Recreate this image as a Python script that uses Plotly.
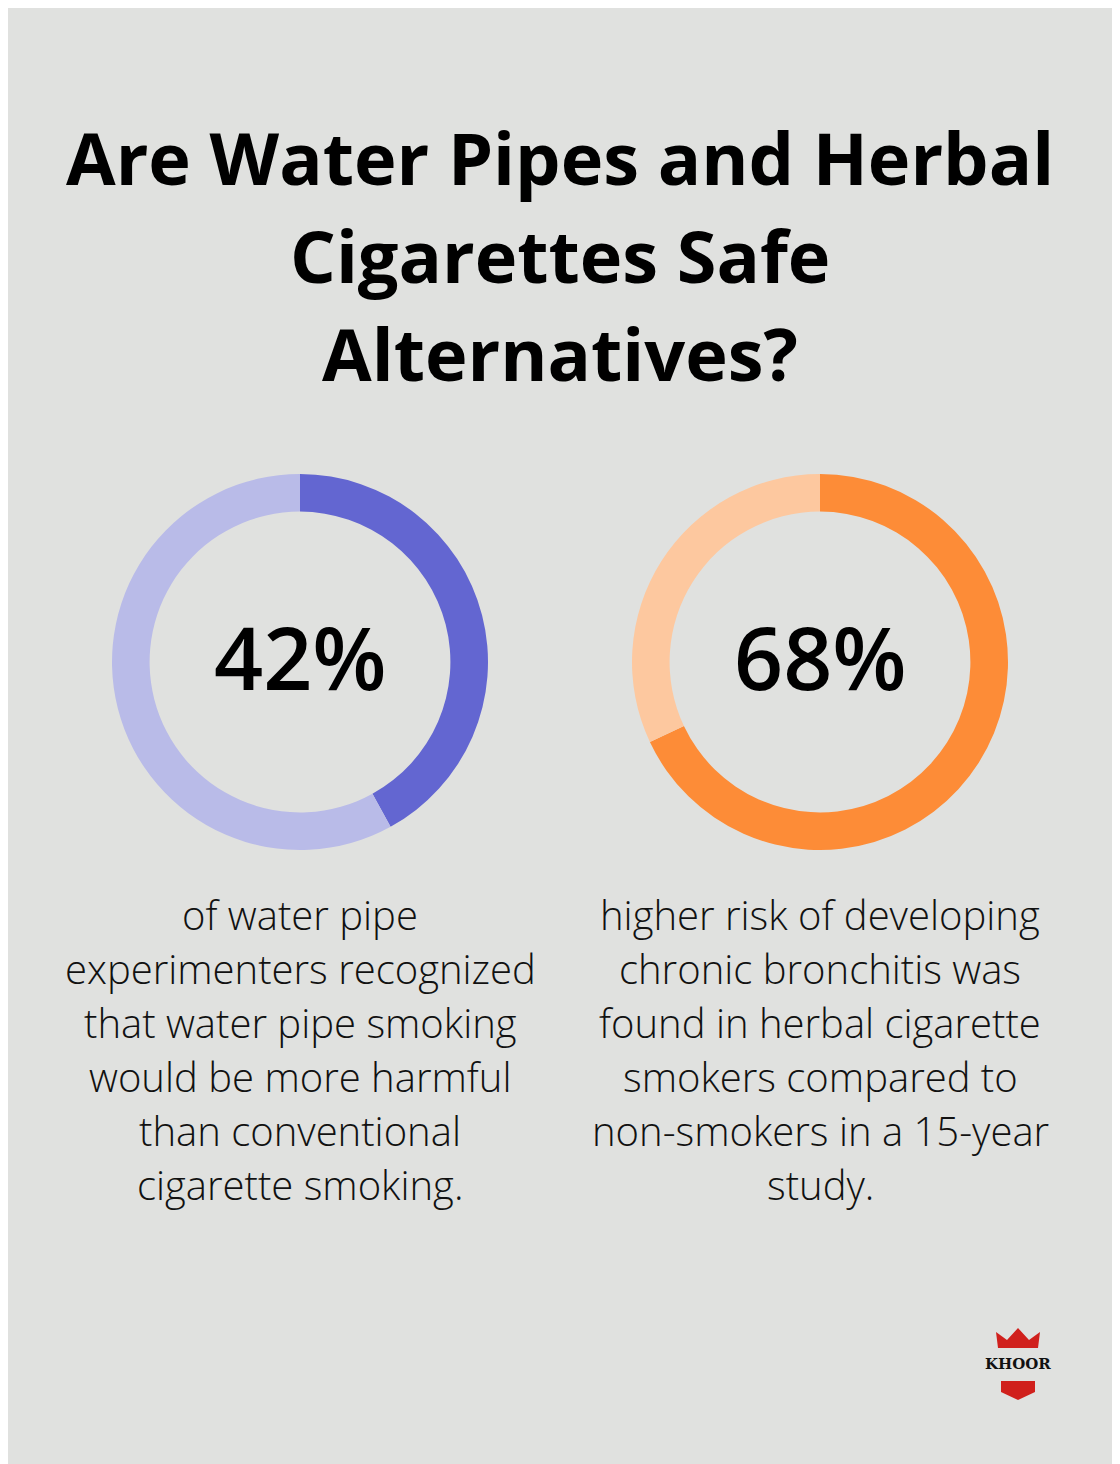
import plotly.graph_objects as go

title_lines = ["Are Water Pipes and Herbal", "Cigarettes Safe", "Alternatives?"]
labels = ["stat", "rest"]
values_left = [42, 58]
values_right = [68, 32]
center_texts = ["42%", "68%"]
captions = [
    ["of water pipe", "experimenters recognized", "that water pipe smoking",
     "would be more harmful", "than conventional", "cigarette smoking."],
    ["higher risk of developing", "chronic bronchitis was", "found in herbal cigarette",
     "smokers compared to", "non-smokers in a 15-year", "study."],
]
colors_left = ["#6366d1", "#b9bbe8"]
colors_right = ["#fd8c37", "#fdc89f"]

OFF = 8
W, H = 1120 - OFF, 1464 - OFF
R = 188

def X(x):
    return (x - OFF) / W

def Y(y):
    return 1 - (y - OFF) / H

fig = go.Figure()
for cx, vals, cols in [(300, values_left, colors_left), (820, values_right, colors_right)]:
    fig.add_trace(go.Pie(
        labels=labels, values=vals, hole=0.8, sort=False, direction="clockwise", rotation=0,
        marker=dict(colors=cols, line=dict(width=0)), textinfo="none", hoverinfo="skip",
        showlegend=False,
        domain=dict(x=[X(cx - R), X(cx + R)], y=[Y(662 + R), Y(662 - R)]),
    ))

ann = []
for i, t in enumerate(title_lines):
    ann.append(dict(text="<b>" + t + "</b>", x=X(560), y=Y(157 + 98 * i), xref="paper", yref="paper",
                    xanchor="center", yanchor="middle", showarrow=False,
                    font=dict(family="Open Sans", size=72, color="#000")))
for cx, t, cap in zip([300, 820], center_texts, captions):
    ann.append(dict(text=t, x=X(cx), y=Y(656), xref="paper", yref="paper",
                    xanchor="center", yanchor="middle", showarrow=False,
                    font=dict(family="Open Sans", size=86, color="#000", weight=600)))
    for j, line in enumerate(cap):
        ann.append(dict(text=line, x=X(cx), y=Y(914 + 54 * j), xref="paper", yref="paper",
                        xanchor="center", yanchor="middle", showarrow=False,
                        font=dict(family="Open Sans", size=40, color="#111", weight=300)))
ann.append(dict(text="<b>KHOOR</b>", x=X(1018), y=Y(1364), xref="paper", yref="paper",
                xanchor="center", yanchor="middle", showarrow=False,
                font=dict(family="DejaVu Serif", size=15, color="#111")))

def px(x, y):
    return f"{X(x)},{Y(y)}"

shapes = [
    dict(type="path", xref="paper", yref="paper", fillcolor="#d0201c", line=dict(width=0),
         path=f"M{px(998,1348)} L{px(996,1332)} L{px(1007,1340)} L{px(1018,1328)} L{px(1029,1340)} L{px(1040,1332)} L{px(1038,1348)} Z"),
    dict(type="path", xref="paper", yref="paper", fillcolor="#d0201c", line=dict(width=0),
         path=f"M{px(1001,1381)} L{px(1035,1381)} L{px(1035,1392)} L{px(1018,1400)} L{px(1001,1392)} Z"),
]

fig.update_layout(width=W, height=H, margin=dict(l=0, r=0, t=0, b=0),
                  paper_bgcolor="#e0e1df", plot_bgcolor="#e0e1df",
                  annotations=ann, shapes=shapes)
fig.write_html("out.html")
